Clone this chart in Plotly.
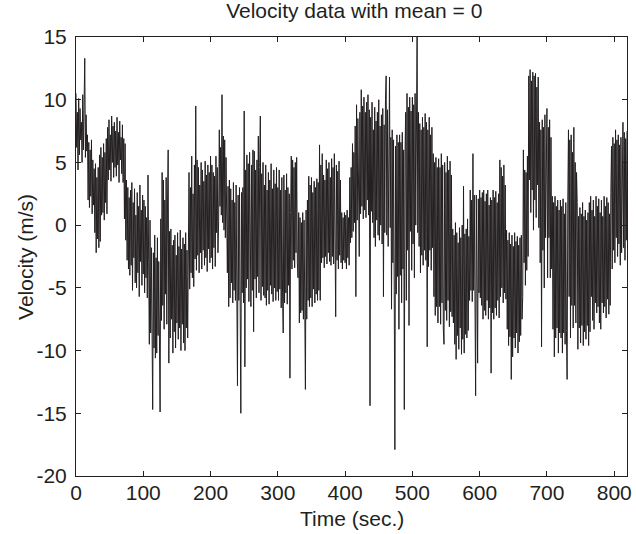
import plotly.graph_objects as go

# Sample spacing (s) for the hand-read velocity series
t_step = 1

# Velocity (m/s) in 20-second blocks (one sample per second)
v_000 = [10.5, 6.2, 9.0, 4.4, 10.1, 5.6, 9.3, 6.8, 8.2, 5.0, 10.4, 6.0, 9.5, 13.3, 5.4, 8.8, 5.9, 7.2, 2.0, 6.6]
v_020 = [1.4, 6.0, 2.3, 6.8, 0.9, 5.2, 1.6, 4.5, -0.6, 4.9, -2.2, 3.8, -1.1, 4.6, -1.8, 5.6, -1.3, 6.2, 0.8, 5.4]
v_040 = [1.0, 6.5, 0.4, 5.8, 1.8, 6.9, 0.9, 7.8, 3.6, 8.4, 4.4, 7.2, 3.5, 8.7, 5.0, 7.9, 3.8, 8.2, 4.6, 7.5]
v_060 = [3.9, 8.6, 4.8, 7.4, 3.4, 8.3, 5.2, 7.0, 4.1, 8.0, 3.4, 6.9, 0.5, 6.5, -1.2, 3.6, -2.8, 3.0, -3.5, 2.2]
v_080 = [-4.0, 2.8, -3.2, 3.4, -5.2, 1.8, -2.6, 2.9, -4.6, 0.8, -5.0, 2.6, -3.8, 1.5, -5.7, 3.2, -2.9, 1.2, -4.8, 2.4]
v_100 = [-3.9, 2.0, -5.4, 1.5, -4.2, 0.6, -5.8, 4.0, -3.0, -9.5, 0.4, -8.6, -1.8, -11.0, -14.7, -2.2, -9.8, -0.8, -10.6, -2.6]
v_120 = [-10.2, -1.0, -8.8, -2.9, -11.0, -14.9, 0.5, -7.6, 4.2, -6.4, 3.6, -8.3, 2.0, -5.5, 3.8, -7.9, 1.6, 6.0, -11.0, -0.5]
v_140 = [-9.0, -0.3, -7.5, -1.6, -10.2, -1.2, -8.5, -0.8, -9.8, -2.4, -7.8, -0.6, -9.1, -1.7, -8.2, -0.4, -10.0, -1.9, -7.9, -1.0]
v_160 = [-9.4, -1.5, -10.0, -0.6, -8.2, -2.0, -9.0, 0.2, 4.2, -5.1, 3.0, -3.8, 5.5, -4.2, 2.5, -4.9, 4.8, -2.7, 9.5, -3.6]
v_180 = [5.2, -2.4, 4.6, -3.8, 3.2, -2.2, 5.0, -3.5, 4.4, -2.0, 3.5, -3.2, 5.1, -2.6, 4.0, -3.7, 4.8, -1.9, 4.2, -3.0]
v_200 = [5.5, -2.6, 4.8, -3.5, 4.2, -1.8, 3.9, -3.3, 5.5, -0.6, 4.6, -2.2, 0.3, 7.6, 1.5, 6.2, 0.8, 10.4, 0.2, 7.1]
v_220 = [-0.4, 6.8, -1.0, 5.4, 2.2, -3.8, 3.1, -6.5, 3.6, -5.8, 2.9, -4.6, 2.0, -6.2, 3.4, -5.2, 1.8, -6.0, 3.2, -4.5]
v_240 = [-12.8, 2.4, -6.0, 3.0, -7.8, -15.0, 2.6, -5.4, 3.0, -6.2, 9.1, -11.3, 4.4, -5.0, 5.6, -4.3, 4.9, -6.1, 5.8, -4.8]
v_260 = [-6.5, 4.8, -5.2, 6.0, -8.5, 5.9, -4.3, 4.4, -5.8, 5.2, -4.1, 7.1, -5.4, 4.6, 8.7, -6.0, 4.1, -4.9, 5.0, -5.6]
v_280 = [3.2, -5.8, 4.8, -6.4, 2.8, -5.2, 4.2, -6.3, 3.6, -4.8, 4.9, -5.5, 2.9, -6.1, 4.4, -5.0, 3.3, -6.0, 4.6, -5.3]
v_300 = [3.0, -6.0, 4.4, -5.1, 2.8, -6.6, 3.8, -5.4, -8.6, 4.0, -6.2, 2.8, -5.4, 4.1, -6.3, 3.0, -4.8, 2.5, -12.2, 1.0]
v_320 = [5.5, -3.5, 5.2, -2.8, 4.6, -3.4, 5.0, -2.2, 5.4, -3.0, -4.2, 1.0, -7.8, 0.6, -7.0, 0.2, -6.8, 1.0, -7.5, 0.4]
v_340 = [-6.5, -13.1, 1.2, -7.5, 2.0, -6.0, 3.9, -6.5, 3.2, -5.8, 3.8, -6.5, 2.6, -5.1, 3.5, -6.2, 3.0, -5.5, 3.7, -6.0]
v_360 = [3.4, -5.2, 6.4, -6.0, 4.8, -3.0, 5.7, -2.6, 4.0, -3.4, 3.6, -2.5, 5.2, -3.1, 4.5, -2.2, 5.0, -2.9, 3.8, -3.2]
v_380 = [5.3, -2.5, 4.6, -3.1, 5.7, -2.0, -7.3, 4.8, -2.8, 4.3, -3.5, 5.1, -2.4, 3.6, -3.0, 1.0, -3.5, 0.6, -2.8, 1.0]
v_400 = [-3.0, 0.8, -3.5, 1.2, -2.6, 0.6, -3.2, 3.8, -1.4, 4.6, -1.0, 6.5, -0.5, 5.8, 0.2, 7.9, -5.7, 9.6, 0.4, 8.5]
v_420 = [0.7, -2.5, 9.0, 0.9, 10.8, 1.5, 9.5, 0.5, 10.2, 1.2, 9.0, 0.6, 9.8, 2.0, 10.4, 0.8, 9.2, -14.4, 8.6, 1.1]
v_440 = [9.8, 0.2, 7.6, -1.0, 9.4, -1.7, 8.3, 0.4, 9.0, -0.8, 10.0, -1.2, 7.9, 0.0, 8.8, -1.5, 9.3, -5.7, 8.0, -0.6]
v_460 = [10.0, 11.9, -0.8, 9.2, -1.7, 8.6, 11.8, -0.2, 7.0, -6.7, 7.6, -3.0, 6.8, -5.2, -17.9, 6.3, -5.5, 7.2, -4.1, 6.6]
v_480 = [-8.3, 7.2, -4.0, 6.6, -6.2, 7.4, -3.5, 6.0, -14.7, 5.5, 9.0, -6.0, 10.5, -2.0, 9.4, -8.0, 10.2, -0.5, 9.1, -3.6]
v_500 = [10.2, -1.5, 9.6, -4.2, 10.5, 0.0, 8.8, 15.0, -0.6, 9.0, -1.7, 8.1, -3.8, 7.6, -2.4, 8.6, -3.2, 7.8, -2.0, 8.9]
v_520 = [-2.8, 8.2, -9.7, 7.6, -3.3, 8.6, -2.0, 7.2, -3.6, 7.8, -1.8, 5.7, -5.7, 5.0, -7.2, 5.4, -6.5, 4.6, -7.8, 5.3]
v_540 = [-6.5, 4.6, -7.9, 5.7, -6.2, 4.8, -8.3, -9.5, 5.0, -6.8, 4.2, -7.6, 5.5, -6.0, 4.4, -8.1, 5.1, -6.9, 4.0, -7.3]
v_560 = [-0.3, -7.8, -0.8, -9.5, 0.2, -10.7, -0.6, -8.8, -1.4, -9.9, -0.2, -8.2, -1.0, -10.3, 0.0, -9.1, 3.1, -10.2, -0.7, -8.7]
v_580 = [-0.3, -9.0, 0.5, -8.4, -0.9, -6.0, 2.8, -5.2, 2.0, -6.1, 5.7, -5.2, 2.4, -4.8, -13.6, 2.4, -5.6, -11.0, 2.1, -5.4]
v_600 = [2.8, -5.8, 2.2, -6.4, 2.6, -7.5, 2.8, -6.8, 1.9, -7.2, 2.5, -6.0, 2.8, -7.5, 1.6, -6.6, 2.2, -11.8, 2.0, -7.0]
v_620 = [2.8, -7.5, 2.2, -6.6, 2.7, -7.2, 1.8, -6.0, 2.5, -7.4, 5.2, -5.7, 4.6, -5.0, 3.9, -6.2, 4.8, -5.4, 3.2, -5.9]
v_640 = [-0.4, -8.3, -1.2, -9.6, -0.6, -8.9, -1.5, -12.3, -0.8, -10.5, -1.7, -9.0, -0.6, -9.8, -1.3, -8.6, -0.9, -10.2, -1.6, -9.3]
v_660 = [-1.0, -8.8, -0.8, -7.5, -5.7, 6.0, -3.0, 4.4, -4.8, 4.2, -3.6, 5.5, -2.5, 11.9, 3.6, 12.4, 1.0, 11.5, 2.8, 12.2]
v_680 = [-0.4, 11.9, 2.0, 12.1, 0.6, 11.0, 3.2, 11.8, -0.2, 8.2, -3.0, 7.6, -9.7, 8.4, -2.0, 7.8, -5.0, 8.8, -1.0, 7.4]
v_700 = [9.3, -4.2, 7.8, -1.0, 8.4, -4.2, 7.0, -3.5, 2.3, -8.3, 1.8, -10.5, 2.3, -9.0, 1.5, -8.2, 2.0, -10.2, 1.2, -8.6]
v_720 = [2.0, -9.0, 1.5, -10.2, 2.1, -8.6, 0.9, -9.5, 1.8, -8.4, -12.3, 2.0, 7.6, -5.7, 6.8, -9.0, 7.2, -6.4, 5.8, -8.2]
v_740 = [7.8, -6.4, 5.0, -7.8, 4.2, 1.8, -9.9, 0.7, -8.2, 1.4, -9.4, 0.9, -8.0, 1.8, -9.6, 0.7, -8.5, 1.2, -9.1, 0.4]
v_760 = [-8.0, 1.0, -9.6, 1.8, -8.5, 2.3, -5.7, 1.2, -7.6, 2.0, -8.3, 0.7, -6.2, 2.3, -7.0, 1.5, -6.5, 2.1, -7.8, 1.0]
v_780 = [-8.3, 2.0, -6.2, 0.7, -7.0, 2.3, -6.5, 1.5, -7.4, 2.2, -5.9, 1.8, -7.1, 0.9, -6.4, 2.6, 6.3, -3.5, 7.0, -2.0]
v_800 = [6.5, -3.0, 7.6, -1.0, 6.8, -2.5, 7.2, -1.5, 6.4, -3.2, 7.0, -2.2, 6.6, 8.2, -1.8, 7.4, -2.8, 6.9, -1.2, 7.5]

blocks = [v_000, v_020, v_040, v_060, v_080, v_100, v_120, v_140, v_160, v_180,
          v_200, v_220, v_240, v_260, v_280, v_300, v_320, v_340, v_360, v_380,
          v_400, v_420, v_440, v_460, v_480, v_500, v_520, v_540, v_560, v_580,
          v_600, v_620, v_640, v_660, v_680, v_700, v_720, v_740, v_760, v_780,
          v_800]
velocity = [v for b in blocks for v in b]
time = [i * t_step for i in range(len(velocity))]

x_ticks = [0, 100, 200, 300, 400, 500, 600, 700, 800]
x_labels = ["0", "100", "200", "300", "400", "500", "600", "700", "800"]
y_ticks = [-20, -15, -10, -5, 0, 5, 10, 15]
y_labels = ["-20", "-15", "-10", "-5", "0", "5", "10", "15"]

ink = "#231f20"
font_family = "Liberation Sans, Arial, sans-serif"
fsize = 21
W, H = 636, 534

fig = go.Figure()
fig.add_trace(go.Scatter(x=time, y=velocity, mode="lines",
                         line=dict(color=ink, width=1), showlegend=False))

axis_common = dict(showgrid=False, zeroline=False, showline=True, linecolor=ink,
                   linewidth=1, mirror="ticks", ticks="inside", ticklen=5,
                   ticklabeloverflow="allow",
                   tickcolor=ink, tickfont=dict(size=fsize, color=ink, family=font_family))

fig.update_layout(
    width=W, height=H,
    margin=dict(l=76, r=4, t=37, b=58),
    paper_bgcolor="white", plot_bgcolor="white",
    title=dict(text="Velocity data with mean = 0", x=0.557, xanchor="center",
               y=0.993, yanchor="top",
               font=dict(size=fsize, color=ink, family=font_family)),
    xaxis=dict(range=[0, 819], tickvals=x_ticks, ticktext=x_labels, ticklabelstandoff=-2,
               **axis_common),
    yaxis=dict(range=[-20, 15], tickvals=y_ticks, ticktext=y_labels, ticklabelstandoff=4,
               **axis_common),
    annotations=[
        dict(text="Time (sec.)", xref="paper", yref="paper", x=0.5, y=1 - (518 - 37) / (H - 37 - 58),
             xanchor="center", yanchor="middle", showarrow=False,
             font=dict(size=fsize, color=ink, family=font_family)),
        dict(text="Velocity (m/s)", xref="paper", yref="paper", x=-(76 - 25) / (W - 76 - 4), y=0.5,
             xanchor="center", yanchor="middle", textangle=-90, showarrow=False,
             font=dict(size=fsize, color=ink, family=font_family)),
    ],
)

fig.write_html("out.html")
